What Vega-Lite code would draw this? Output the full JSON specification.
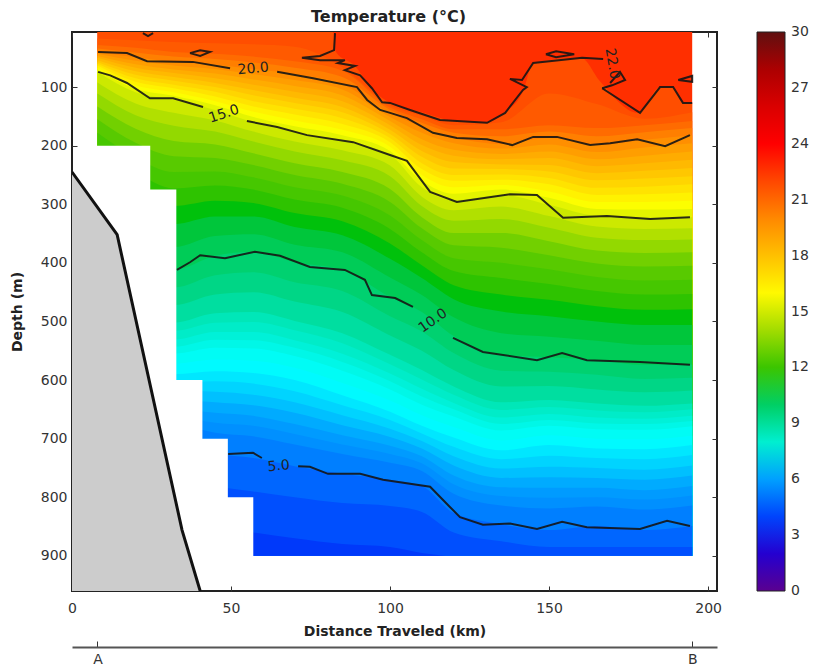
{"$schema":"https://vega.github.io/schema/vega-lite/v6.json","width":645,"height":559,"autosize":{"type":"none"},"padding":{"left":72,"top":32,"right":98,"bottom":79},"background":"white","title":{"text":"Temperature (°C)","font":"DejaVu Sans","fontSize":16,"fontWeight":"bold","color":"#222","offset":4,"anchor":"middle","dx":-6},"config":{"view":{"stroke":"#222","strokeWidth":2},"axis":{"grid":false,"labelFont":"DejaVu Sans","titleFont":"DejaVu Sans","labelFontSize":14,"titleFontSize":14,"titleFontWeight":"bold","labelColor":"#333","titleColor":"#222","tickColor":"#333","domain":false,"labelFlush":false},"legend":{"labelFont":"DejaVu Sans"}},"resolve":{"axis":{"x":"independent","y":"independent"}},"layer":[
{"data":{"values":[
{"x":8,"t":22.7,"d":6},{"x":195,"t":22.7,"d":6},
{"x":8,"t":21.75,"d":6},{"x":82,"t":21.75,"d":6},{"x":83,"t":21.75,"d":40},{"x":89,"t":21.75,"d":64},{"x":94,"t":21.75,"d":102},{"x":100,"t":21.75,"d":127},{"x":110,"t":21.75,"d":143},{"x":120,"t":21.75,"d":158},{"x":130,"t":21.75,"d":161},{"x":136,"t":21.75,"d":144},{"x":142,"t":21.75,"d":105},{"x":145,"t":21.75,"d":59},{"x":160,"t":21.75,"d":50},{"x":166,"t":21.75,"d":90},{"x":178,"t":21.75,"d":144},{"x":185,"t":21.75,"d":100},{"x":189,"t":21.75,"d":100},{"x":192,"t":21.75,"d":127},{"x":195,"t":21.75,"d":127},
{"x":8,"t":21.25,"d":17},{"x":20,"t":21.25,"d":20},{"x":32,"t":21.25,"d":23},{"x":45,"t":21.25,"d":25},{"x":57,"t":21.25,"d":27},{"x":70,"t":21.25,"d":31},{"x":85,"t":21.25,"d":66},{"x":100,"t":21.25,"d":131},{"x":110,"t":21.25,"d":149},{"x":120,"t":21.25,"d":165},{"x":135,"t":21.25,"d":160},{"x":150,"t":21.25,"d":111},{"x":165,"t":21.25,"d":129},{"x":180,"t":21.25,"d":154},{"x":195,"t":21.25,"d":143},
{"x":8,"t":20.75,"d":28},{"x":20,"t":20.75,"d":33},{"x":32,"t":20.75,"d":40},{"x":45,"t":20.75,"d":43},{"x":57,"t":20.75,"d":48},{"x":70,"t":20.75,"d":56},{"x":85,"t":20.75,"d":72},{"x":100,"t":20.75,"d":135},{"x":110,"t":20.75,"d":155},{"x":120,"t":20.75,"d":172},{"x":135,"t":20.75,"d":172},{"x":150,"t":20.75,"d":165},{"x":165,"t":20.75,"d":170},{"x":180,"t":20.75,"d":165},{"x":195,"t":20.75,"d":158},
{"x":8,"t":20.25,"d":34},{"x":20,"t":20.25,"d":41},{"x":32,"t":20.25,"d":48},{"x":45,"t":20.25,"d":52},{"x":57,"t":20.25,"d":58},{"x":70,"t":20.25,"d":67},{"x":85,"t":20.25,"d":83},{"x":100,"t":20.25,"d":139},{"x":110,"t":20.25,"d":161},{"x":120,"t":20.25,"d":178},{"x":135,"t":20.25,"d":184},{"x":150,"t":20.25,"d":176},{"x":165,"t":20.25,"d":184},{"x":180,"t":20.25,"d":177},{"x":195,"t":20.25,"d":170},
{"x":8,"t":19.75,"d":40},{"x":20,"t":19.75,"d":49},{"x":32,"t":19.75,"d":57},{"x":45,"t":19.75,"d":62},{"x":57,"t":19.75,"d":69},{"x":70,"t":19.75,"d":78},{"x":85,"t":19.75,"d":95},{"x":100,"t":19.75,"d":144},{"x":110,"t":19.75,"d":168},{"x":120,"t":19.75,"d":185},{"x":135,"t":19.75,"d":197},{"x":150,"t":19.75,"d":187},{"x":165,"t":19.75,"d":199},{"x":180,"t":19.75,"d":190},{"x":195,"t":19.75,"d":182},
{"x":8,"t":19.25,"d":43},{"x":20,"t":19.25,"d":55},{"x":32,"t":19.25,"d":63},{"x":45,"t":19.25,"d":69},{"x":57,"t":19.25,"d":78},{"x":70,"t":19.25,"d":88},{"x":85,"t":19.25,"d":104},{"x":100,"t":19.25,"d":151},{"x":110,"t":19.25,"d":178},{"x":120,"t":19.25,"d":196},{"x":135,"t":19.25,"d":205},{"x":150,"t":19.25,"d":198},{"x":165,"t":19.25,"d":211},{"x":180,"t":19.25,"d":203},{"x":195,"t":19.25,"d":196},
{"x":8,"t":18.75,"d":47},{"x":20,"t":18.75,"d":61},{"x":32,"t":18.75,"d":70},{"x":45,"t":18.75,"d":77},{"x":57,"t":18.75,"d":87},{"x":70,"t":18.75,"d":98},{"x":85,"t":18.75,"d":114},{"x":100,"t":18.75,"d":158},{"x":110,"t":18.75,"d":189},{"x":120,"t":18.75,"d":207},{"x":135,"t":18.75,"d":214},{"x":150,"t":18.75,"d":210},{"x":165,"t":18.75,"d":223},{"x":180,"t":18.75,"d":217},{"x":195,"t":18.75,"d":210},
{"x":8,"t":18.25,"d":50},{"x":20,"t":18.25,"d":67},{"x":32,"t":18.25,"d":76},{"x":45,"t":18.25,"d":85},{"x":57,"t":18.25,"d":96},{"x":70,"t":18.25,"d":108},{"x":85,"t":18.25,"d":124},{"x":100,"t":18.25,"d":165},{"x":110,"t":18.25,"d":199},{"x":120,"t":18.25,"d":217},{"x":135,"t":18.25,"d":223},{"x":150,"t":18.25,"d":221},{"x":165,"t":18.25,"d":235},{"x":180,"t":18.25,"d":230},{"x":195,"t":18.25,"d":224},
{"x":8,"t":17.75,"d":54},{"x":20,"t":17.75,"d":73},{"x":32,"t":17.75,"d":83},{"x":45,"t":17.75,"d":93},{"x":57,"t":17.75,"d":105},{"x":70,"t":17.75,"d":118},{"x":85,"t":17.75,"d":134},{"x":100,"t":17.75,"d":173},{"x":110,"t":17.75,"d":209},{"x":120,"t":17.75,"d":228},{"x":135,"t":17.75,"d":232},{"x":150,"t":17.75,"d":233},{"x":165,"t":17.75,"d":247},{"x":180,"t":17.75,"d":243},{"x":195,"t":17.75,"d":238},
{"x":8,"t":17.25,"d":57},{"x":20,"t":17.25,"d":79},{"x":32,"t":17.25,"d":89},{"x":45,"t":17.25,"d":100},{"x":57,"t":17.25,"d":114},{"x":70,"t":17.25,"d":127},{"x":85,"t":17.25,"d":143},{"x":100,"t":17.25,"d":180},{"x":110,"t":17.25,"d":219},{"x":120,"t":17.25,"d":239},{"x":135,"t":17.25,"d":240},{"x":150,"t":17.25,"d":244},{"x":165,"t":17.25,"d":259},{"x":180,"t":17.25,"d":256},{"x":195,"t":17.25,"d":252},
{"x":8,"t":16.75,"d":60},{"x":20,"t":16.75,"d":85},{"x":32,"t":16.75,"d":96},{"x":45,"t":16.75,"d":108},{"x":57,"t":16.75,"d":124},{"x":70,"t":16.75,"d":137},{"x":85,"t":16.75,"d":153},{"x":100,"t":16.75,"d":187},{"x":110,"t":16.75,"d":230},{"x":120,"t":16.75,"d":250},{"x":135,"t":16.75,"d":249},{"x":150,"t":16.75,"d":255},{"x":165,"t":16.75,"d":272},{"x":180,"t":16.75,"d":270},{"x":195,"t":16.75,"d":266},
{"x":8,"t":16.25,"d":63},{"x":20,"t":16.25,"d":91},{"x":32,"t":16.25,"d":102},{"x":45,"t":16.25,"d":116},{"x":57,"t":16.25,"d":133},{"x":70,"t":16.25,"d":147},{"x":85,"t":16.25,"d":163},{"x":100,"t":16.25,"d":194},{"x":110,"t":16.25,"d":240},{"x":120,"t":16.25,"d":260},{"x":135,"t":16.25,"d":258},{"x":150,"t":16.25,"d":266},{"x":165,"t":16.25,"d":284},{"x":180,"t":16.25,"d":283},{"x":195,"t":16.25,"d":280},
{"x":8,"t":15.75,"d":67},{"x":20,"t":15.75,"d":97},{"x":32,"t":15.75,"d":109},{"x":45,"t":15.75,"d":124},{"x":57,"t":15.75,"d":142},{"x":70,"t":15.75,"d":157},{"x":85,"t":15.75,"d":173},{"x":100,"t":15.75,"d":202},{"x":110,"t":15.75,"d":250},{"x":120,"t":15.75,"d":271},{"x":135,"t":15.75,"d":267},{"x":150,"t":15.75,"d":278},{"x":165,"t":15.75,"d":296},{"x":180,"t":15.75,"d":296},{"x":195,"t":15.75,"d":294},
{"x":8,"t":15.25,"d":70},{"x":20,"t":15.25,"d":103},{"x":32,"t":15.25,"d":115},{"x":45,"t":15.25,"d":131},{"x":57,"t":15.25,"d":151},{"x":70,"t":15.25,"d":167},{"x":85,"t":15.25,"d":182},{"x":100,"t":15.25,"d":209},{"x":110,"t":15.25,"d":260},{"x":120,"t":15.25,"d":282},{"x":135,"t":15.25,"d":275},{"x":150,"t":15.25,"d":289},{"x":165,"t":15.25,"d":308},{"x":180,"t":15.25,"d":309},{"x":195,"t":15.25,"d":308},
{"x":8,"t":14.75,"d":74},{"x":20,"t":14.75,"d":109},{"x":32,"t":14.75,"d":122},{"x":45,"t":14.75,"d":139},{"x":57,"t":14.75,"d":160},{"x":70,"t":14.75,"d":177},{"x":85,"t":14.75,"d":192},{"x":100,"t":14.75,"d":216},{"x":110,"t":14.75,"d":271},{"x":120,"t":14.75,"d":293},{"x":135,"t":14.75,"d":284},{"x":150,"t":14.75,"d":301},{"x":165,"t":14.75,"d":320},{"x":180,"t":14.75,"d":323},{"x":195,"t":14.75,"d":322},
{"x":8,"t":14.25,"d":92},{"x":20,"t":14.25,"d":128},{"x":32,"t":14.25,"d":144},{"x":45,"t":14.25,"d":157},{"x":57,"t":14.25,"d":176},{"x":70,"t":14.25,"d":193},{"x":85,"t":14.25,"d":208},{"x":100,"t":14.25,"d":234},{"x":110,"t":14.25,"d":287},{"x":120,"t":14.25,"d":310},{"x":135,"t":14.25,"d":304},{"x":150,"t":14.25,"d":320},{"x":165,"t":14.25,"d":338},{"x":180,"t":14.25,"d":342},{"x":195,"t":14.25,"d":341},
{"x":8,"t":13.75,"d":111},{"x":20,"t":13.75,"d":148},{"x":32,"t":13.75,"d":166},{"x":45,"t":13.75,"d":176},{"x":57,"t":13.75,"d":193},{"x":70,"t":13.75,"d":210},{"x":85,"t":13.75,"d":225},{"x":100,"t":13.75,"d":252},{"x":110,"t":13.75,"d":303},{"x":120,"t":13.75,"d":328},{"x":135,"t":13.75,"d":325},{"x":150,"t":13.75,"d":340},{"x":165,"t":13.75,"d":357},{"x":180,"t":13.75,"d":361},{"x":195,"t":13.75,"d":360},
{"x":8,"t":13.25,"d":133},{"x":20,"t":13.25,"d":171},{"x":32,"t":13.25,"d":192},{"x":45,"t":13.25,"d":198},{"x":57,"t":13.25,"d":213},{"x":70,"t":13.25,"d":230},{"x":85,"t":13.25,"d":245},{"x":100,"t":13.25,"d":274},{"x":110,"t":13.25,"d":322},{"x":120,"t":13.25,"d":349},{"x":135,"t":13.25,"d":349},{"x":150,"t":13.25,"d":363},{"x":165,"t":13.25,"d":379},{"x":180,"t":13.25,"d":383},{"x":195,"t":13.25,"d":382},
{"x":8,"t":12.75,"d":155},{"x":20,"t":12.75,"d":195},{"x":32,"t":12.75,"d":218},{"x":45,"t":12.75,"d":221},{"x":57,"t":12.75,"d":233},{"x":70,"t":12.75,"d":250},{"x":85,"t":12.75,"d":265},{"x":100,"t":12.75,"d":296},{"x":110,"t":12.75,"d":341},{"x":120,"t":12.75,"d":370},{"x":135,"t":12.75,"d":374},{"x":150,"t":12.75,"d":387},{"x":165,"t":12.75,"d":401},{"x":180,"t":12.75,"d":406},{"x":195,"t":12.75,"d":405},
{"x":8,"t":12.25,"d":178},{"x":20,"t":12.25,"d":220},{"x":32,"t":12.25,"d":245},{"x":45,"t":12.25,"d":244},{"x":57,"t":12.25,"d":254},{"x":70,"t":12.25,"d":271},{"x":85,"t":12.25,"d":285},{"x":100,"t":12.25,"d":319},{"x":110,"t":12.25,"d":361},{"x":120,"t":12.25,"d":392},{"x":135,"t":12.25,"d":400},{"x":150,"t":12.25,"d":411},{"x":165,"t":12.25,"d":424},{"x":180,"t":12.25,"d":430},{"x":195,"t":12.25,"d":429},
{"x":8,"t":11.75,"d":202},{"x":20,"t":11.75,"d":245},{"x":32,"t":11.75,"d":273},{"x":45,"t":11.75,"d":268},{"x":57,"t":11.75,"d":275},{"x":70,"t":11.75,"d":292},{"x":85,"t":11.75,"d":306},{"x":100,"t":11.75,"d":342},{"x":110,"t":11.75,"d":382},{"x":120,"t":11.75,"d":414},{"x":135,"t":11.75,"d":426},{"x":150,"t":11.75,"d":436},{"x":165,"t":11.75,"d":448},{"x":180,"t":11.75,"d":454},{"x":195,"t":11.75,"d":453},
{"x":8,"t":11.25,"d":228},{"x":20,"t":11.25,"d":272},{"x":32,"t":11.25,"d":303},{"x":45,"t":11.25,"d":294},{"x":57,"t":11.25,"d":298},{"x":70,"t":11.25,"d":315},{"x":85,"t":11.25,"d":329},{"x":100,"t":11.25,"d":367},{"x":110,"t":11.25,"d":404},{"x":120,"t":11.25,"d":438},{"x":135,"t":11.25,"d":454},{"x":150,"t":11.25,"d":463},{"x":165,"t":11.25,"d":474},{"x":180,"t":11.25,"d":480},{"x":195,"t":11.25,"d":479},
{"x":8,"t":10.75,"d":254},{"x":20,"t":10.75,"d":300},{"x":32,"t":10.75,"d":334},{"x":45,"t":10.75,"d":321},{"x":57,"t":10.75,"d":321},{"x":70,"t":10.75,"d":339},{"x":85,"t":10.75,"d":353},{"x":100,"t":10.75,"d":393},{"x":110,"t":10.75,"d":426},{"x":120,"t":10.75,"d":462},{"x":135,"t":10.75,"d":483},{"x":150,"t":10.75,"d":491},{"x":165,"t":10.75,"d":500},{"x":180,"t":10.75,"d":506},{"x":195,"t":10.75,"d":506},
{"x":8,"t":10.25,"d":287},{"x":20,"t":10.25,"d":335},{"x":32,"t":10.25,"d":373},{"x":45,"t":10.25,"d":354},{"x":57,"t":10.25,"d":351},{"x":70,"t":10.25,"d":369},{"x":85,"t":10.25,"d":382},{"x":100,"t":10.25,"d":425},{"x":110,"t":10.25,"d":455},{"x":120,"t":10.25,"d":493},{"x":135,"t":10.25,"d":520},{"x":150,"t":10.25,"d":526},{"x":165,"t":10.25,"d":533},{"x":180,"t":10.25,"d":540},{"x":195,"t":10.25,"d":540},
{"x":8,"t":9.75,"d":320},{"x":20,"t":9.75,"d":370},{"x":32,"t":9.75,"d":412},{"x":45,"t":9.75,"d":388},{"x":57,"t":9.75,"d":381},{"x":70,"t":9.75,"d":399},{"x":85,"t":9.75,"d":412},{"x":100,"t":9.75,"d":458},{"x":110,"t":9.75,"d":484},{"x":120,"t":9.75,"d":525},{"x":135,"t":9.75,"d":557},{"x":150,"t":9.75,"d":561},{"x":165,"t":9.75,"d":566},{"x":180,"t":9.75,"d":574},{"x":195,"t":9.75,"d":574},
{"x":8,"t":9.25,"d":360},{"x":20,"t":9.25,"d":404},{"x":32,"t":9.25,"d":442},{"x":45,"t":9.25,"d":421},{"x":57,"t":9.25,"d":416},{"x":70,"t":9.25,"d":433},{"x":85,"t":9.25,"d":448},{"x":100,"t":9.25,"d":491},{"x":110,"t":9.25,"d":517},{"x":120,"t":9.25,"d":554},{"x":135,"t":9.25,"d":584},{"x":150,"t":9.25,"d":586},{"x":165,"t":9.25,"d":591},{"x":180,"t":9.25,"d":598},{"x":195,"t":9.25,"d":596},
{"x":8,"t":8.75,"d":399},{"x":20,"t":8.75,"d":438},{"x":32,"t":8.75,"d":472},{"x":45,"t":8.75,"d":454},{"x":57,"t":8.75,"d":450},{"x":70,"t":8.75,"d":466},{"x":85,"t":8.75,"d":484},{"x":100,"t":8.75,"d":524},{"x":110,"t":8.75,"d":550},{"x":120,"t":8.75,"d":583},{"x":135,"t":8.75,"d":611},{"x":150,"t":8.75,"d":610},{"x":165,"t":8.75,"d":616},{"x":180,"t":8.75,"d":621},{"x":195,"t":8.75,"d":618},
{"x":8,"t":8.375,"d":438},{"x":20,"t":8.375,"d":472},{"x":32,"t":8.375,"d":502},{"x":45,"t":8.375,"d":486},{"x":57,"t":8.375,"d":484},{"x":70,"t":8.375,"d":499},{"x":85,"t":8.375,"d":520},{"x":100,"t":8.375,"d":557},{"x":110,"t":8.375,"d":583},{"x":120,"t":8.375,"d":611},{"x":135,"t":8.375,"d":638},{"x":150,"t":8.375,"d":634},{"x":165,"t":8.375,"d":640},{"x":180,"t":8.375,"d":644},{"x":195,"t":8.375,"d":640},
{"x":8,"t":8.125,"d":457},{"x":20,"t":8.125,"d":488},{"x":32,"t":8.125,"d":516},{"x":45,"t":8.125,"d":502},{"x":57,"t":8.125,"d":501},{"x":70,"t":8.125,"d":515},{"x":85,"t":8.125,"d":537},{"x":100,"t":8.125,"d":573},{"x":110,"t":8.125,"d":599},{"x":120,"t":8.125,"d":625},{"x":135,"t":8.125,"d":651},{"x":150,"t":8.125,"d":646},{"x":165,"t":8.125,"d":652},{"x":180,"t":8.125,"d":655},{"x":195,"t":8.125,"d":650},
{"x":8,"t":7.875,"d":476},{"x":20,"t":7.875,"d":505},{"x":32,"t":7.875,"d":531},{"x":45,"t":7.875,"d":518},{"x":57,"t":7.875,"d":518},{"x":70,"t":7.875,"d":532},{"x":85,"t":7.875,"d":555},{"x":100,"t":7.875,"d":589},{"x":110,"t":7.875,"d":615},{"x":120,"t":7.875,"d":639},{"x":135,"t":7.875,"d":664},{"x":150,"t":7.875,"d":658},{"x":165,"t":7.875,"d":664},{"x":180,"t":7.875,"d":666},{"x":195,"t":7.875,"d":661},
{"x":8,"t":7.625,"d":492},{"x":20,"t":7.625,"d":518},{"x":32,"t":7.625,"d":543},{"x":45,"t":7.625,"d":531},{"x":57,"t":7.625,"d":532},{"x":70,"t":7.625,"d":545},{"x":85,"t":7.625,"d":569},{"x":100,"t":7.625,"d":602},{"x":110,"t":7.625,"d":628},{"x":120,"t":7.625,"d":650},{"x":135,"t":7.625,"d":675},{"x":150,"t":7.625,"d":668},{"x":165,"t":7.625,"d":674},{"x":180,"t":7.625,"d":675},{"x":195,"t":7.625,"d":670},
{"x":8,"t":7.375,"d":508},{"x":20,"t":7.375,"d":532},{"x":32,"t":7.375,"d":555},{"x":45,"t":7.375,"d":545},{"x":57,"t":7.375,"d":546},{"x":70,"t":7.375,"d":559},{"x":85,"t":7.375,"d":584},{"x":100,"t":7.375,"d":616},{"x":110,"t":7.375,"d":642},{"x":120,"t":7.375,"d":662},{"x":135,"t":7.375,"d":686},{"x":150,"t":7.375,"d":678},{"x":165,"t":7.375,"d":684},{"x":180,"t":7.375,"d":685},{"x":195,"t":7.375,"d":679},
{"x":8,"t":7.125,"d":530},{"x":20,"t":7.125,"d":552},{"x":32,"t":7.125,"d":572},{"x":45,"t":7.125,"d":565},{"x":57,"t":7.125,"d":567},{"x":70,"t":7.125,"d":579},{"x":85,"t":7.125,"d":605},{"x":100,"t":7.125,"d":635},{"x":110,"t":7.125,"d":660},{"x":120,"t":7.125,"d":680},{"x":135,"t":7.125,"d":703},{"x":150,"t":7.125,"d":694},{"x":165,"t":7.125,"d":700},{"x":180,"t":7.125,"d":701},{"x":195,"t":7.125,"d":695},
{"x":8,"t":6.875,"d":553},{"x":20,"t":6.875,"d":572},{"x":32,"t":6.875,"d":590},{"x":45,"t":6.875,"d":585},{"x":57,"t":6.875,"d":588},{"x":70,"t":6.875,"d":600},{"x":85,"t":6.875,"d":626},{"x":100,"t":6.875,"d":654},{"x":110,"t":6.875,"d":678},{"x":120,"t":6.875,"d":698},{"x":135,"t":6.875,"d":720},{"x":150,"t":6.875,"d":711},{"x":165,"t":6.875,"d":717},{"x":180,"t":6.875,"d":718},{"x":195,"t":6.875,"d":711},
{"x":8,"t":6.625,"d":569},{"x":20,"t":6.625,"d":587},{"x":32,"t":6.625,"d":604},{"x":45,"t":6.625,"d":602},{"x":57,"t":6.625,"d":606},{"x":70,"t":6.625,"d":619},{"x":85,"t":6.625,"d":643},{"x":100,"t":6.625,"d":668},{"x":110,"t":6.625,"d":691},{"x":120,"t":6.625,"d":714},{"x":135,"t":6.625,"d":735},{"x":150,"t":6.625,"d":729},{"x":165,"t":6.625,"d":733},{"x":180,"t":6.625,"d":735},{"x":195,"t":6.625,"d":728},
{"x":8,"t":6.375,"d":585},{"x":20,"t":6.375,"d":602},{"x":32,"t":6.375,"d":618},{"x":45,"t":6.375,"d":620},{"x":57,"t":6.375,"d":625},{"x":70,"t":6.375,"d":638},{"x":85,"t":6.375,"d":660},{"x":100,"t":6.375,"d":683},{"x":110,"t":6.375,"d":704},{"x":120,"t":6.375,"d":730},{"x":135,"t":6.375,"d":751},{"x":150,"t":6.375,"d":748},{"x":165,"t":6.375,"d":750},{"x":180,"t":6.375,"d":753},{"x":195,"t":6.375,"d":746},
{"x":8,"t":6.125,"d":601},{"x":20,"t":6.125,"d":617},{"x":32,"t":6.125,"d":632},{"x":45,"t":6.125,"d":638},{"x":57,"t":6.125,"d":643},{"x":70,"t":6.125,"d":656},{"x":85,"t":6.125,"d":677},{"x":100,"t":6.125,"d":697},{"x":110,"t":6.125,"d":717},{"x":120,"t":6.125,"d":746},{"x":135,"t":6.125,"d":767},{"x":150,"t":6.125,"d":766},{"x":165,"t":6.125,"d":767},{"x":180,"t":6.125,"d":770},{"x":195,"t":6.125,"d":763},
{"x":8,"t":5.875,"d":617},{"x":20,"t":5.875,"d":632},{"x":32,"t":5.875,"d":646},{"x":45,"t":5.875,"d":656},{"x":57,"t":5.875,"d":661},{"x":70,"t":5.875,"d":675},{"x":85,"t":5.875,"d":694},{"x":100,"t":5.875,"d":712},{"x":110,"t":5.875,"d":730},{"x":120,"t":5.875,"d":763},{"x":135,"t":5.875,"d":783},{"x":150,"t":5.875,"d":784},{"x":165,"t":5.875,"d":784},{"x":180,"t":5.875,"d":788},{"x":195,"t":5.875,"d":781},
{"x":8,"t":5.625,"d":632},{"x":20,"t":5.625,"d":646},{"x":32,"t":5.625,"d":659},{"x":45,"t":5.625,"d":673},{"x":57,"t":5.625,"d":678},{"x":70,"t":5.625,"d":692},{"x":85,"t":5.625,"d":710},{"x":100,"t":5.625,"d":726},{"x":110,"t":5.625,"d":742},{"x":120,"t":5.625,"d":778},{"x":135,"t":5.625,"d":798},{"x":150,"t":5.625,"d":801},{"x":165,"t":5.625,"d":800},{"x":180,"t":5.625,"d":804},{"x":195,"t":5.625,"d":797},
{"x":8,"t":5.25,"d":648},{"x":20,"t":5.25,"d":660},{"x":32,"t":5.25,"d":672},{"x":45,"t":5.25,"d":690},{"x":57,"t":5.25,"d":696},{"x":70,"t":5.25,"d":710},{"x":85,"t":5.25,"d":726},{"x":100,"t":5.25,"d":741},{"x":110,"t":5.25,"d":755},{"x":120,"t":5.25,"d":794},{"x":135,"t":5.25,"d":814},{"x":150,"t":5.25,"d":819},{"x":165,"t":5.25,"d":816},{"x":180,"t":5.25,"d":821},{"x":195,"t":5.25,"d":814},
{"x":8,"t":4.75,"d":680},{"x":20,"t":4.75,"d":690},{"x":32,"t":4.75,"d":700},{"x":45,"t":4.75,"d":725},{"x":57,"t":4.75,"d":733},{"x":70,"t":4.75,"d":747},{"x":85,"t":4.75,"d":760},{"x":100,"t":4.75,"d":770},{"x":110,"t":4.75,"d":781},{"x":120,"t":4.75,"d":827},{"x":135,"t":4.75,"d":846},{"x":150,"t":4.75,"d":856},{"x":165,"t":4.75,"d":849},{"x":180,"t":4.75,"d":856},{"x":195,"t":4.75,"d":849},
{"x":8,"t":4.25,"d":730},{"x":20,"t":4.25,"d":740},{"x":32,"t":4.25,"d":750},{"x":45,"t":4.25,"d":780},{"x":57,"t":4.25,"d":790},{"x":70,"t":4.25,"d":800},{"x":85,"t":4.25,"d":810},{"x":100,"t":4.25,"d":815},{"x":110,"t":4.25,"d":825},{"x":120,"t":4.25,"d":860},{"x":135,"t":4.25,"d":875},{"x":150,"t":4.25,"d":885},{"x":165,"t":4.25,"d":885},{"x":180,"t":4.25,"d":885},{"x":195,"t":4.25,"d":885},
{"x":8,"t":3.75,"d":790},{"x":20,"t":3.75,"d":800},{"x":32,"t":3.75,"d":820},{"x":45,"t":3.75,"d":850},{"x":57,"t":3.75,"d":860},{"x":70,"t":3.75,"d":870},{"x":85,"t":3.75,"d":880},{"x":100,"t":3.75,"d":885},{"x":110,"t":3.75,"d":895},{"x":120,"t":3.75,"d":900},{"x":135,"t":3.75,"d":900},{"x":150,"t":3.75,"d":900},{"x":165,"t":3.75,"d":900},{"x":180,"t":3.75,"d":900},{"x":195,"t":3.75,"d":900}
]},"mark":{"type":"area","interpolate":"monotone","orient":"vertical"},"encoding":{
"x":{"field":"x","type":"quantitative","scale":{"domain":[0,202.8],"nice":false,"zero":false},"title":"Distance Traveled (km)","axis":{"values":[0,50,100,150,200],"tickSize":-5,"labelPadding":15,"titlePadding":9,"orient":"bottom"}},
"y":{"field":"d","type":"quantitative","stack":false,"scale":{"domain":[960,6],"nice":false,"zero":false},"title":"Depth (m)","axis":{"values":[100,200,300,400,500,600,700,800,900],"tickSize":-5,"labelPadding":10,"titlePadding":16,"orient":"left"}},
"y2":{"datum":900},
"detail":{"field":"t"},
"color":{"field":"t","type":"quantitative","scale":{"type":"linear","domain":[0,1.5,3,4.5,6,7.2,9,11.3,13,14.5,15.8,18,20,21,23,24,27,29,30],"range":["#5a0090","#2a00c0","#0000f0","#0058ff","#00a0ff","#00ffff","#00d890","#00c000","#60cc00","#c0e400","#ffff00","#ffc000","#ff8800","#ff6000","#ff2000","#ff0000","#c80000","#900000","#601010"]},"legend":{"orient":"none","legendX":685,"legendY":0,"title":null,"gradientLength":559,"gradientThickness":28,"values":[0,3,6,9,12,15,18,21,24,27,30],"labelFontSize":14,"labelColor":"#333","gradientStrokeColor":"#222","gradientStrokeWidth":1,"labelOverlap":false,"labelOffset":6,"encoding":{"labels":{"baseline":{"value":"middle"}}}}}}},
{"data":{"values":[{"x0":7,"x1":24.6,"d0":200,"d1":900.5},{"x0":7,"x1":32.8,"d0":275,"d1":900.5},{"x0":7,"x1":41,"d0":600,"d1":900.5},{"x0":7,"x1":49,"d0":700,"d1":900.5},{"x0":7,"x1":57,"d0":800,"d1":900.5}]},"mark":{"type":"rect","color":"white"},"encoding":{
"x":{"field":"x0","type":"quantitative","axis":{"values":[8,195],"orient":"bottom","offset":56,"domain":true,"domainColor":"#555","domainWidth":2,"tickSize":-6,"labelPadding":11,"labelExpr":"datum.value < 100 ? 'A' : 'B'","title":null,"labelFontSize":14}},"x2":{"field":"x1"},
"y":{"field":"d0","type":"quantitative","axis":{"values":[100,200,300,400,500,600,700,800,900],"orient":"right","tickSize":-5,"labels":false,"title":null}},"y2":{"field":"d1"}}},
{"data":{"values":[{"x":0,"d":245},{"x":14.2,"d":352},{"x":34.6,"d":856},{"x":40.3,"d":960}]},"mark":{"type":"area","color":"#cccccc","orient":"vertical"},"encoding":{
"x":{"field":"x","type":"quantitative","axis":{"values":[0,50,100,150,200],"orient":"top","tickSize":-5,"labels":false,"title":null}},
"y":{"field":"d","type":"quantitative","stack":false,"axis":null},"y2":{"datum":960}}},
{"data":{"values":[{"x":0,"d":245},{"x":14.2,"d":352},{"x":34.6,"d":856},{"x":40.3,"d":960}]},"mark":{"type":"line","color":"#111","strokeWidth":3,"clip":true},"encoding":{"x":{"field":"x","type":"quantitative","axis":null},"y":{"field":"d","type":"quantitative","axis":null}}},
{"data":{"values":[
{"id":"20a","x":8.2,"d":40},{"id":"20a","x":17.3,"d":42},{"id":"20a","x":23.6,"d":56},{"id":"20a","x":38,"d":57},{"id":"20a","x":49.7,"d":68},
{"id":"20b","x":64.5,"d":74},{"id":"20b","x":75.8,"d":85},{"id":"20b","x":89.6,"d":100},{"id":"20b","x":92.8,"d":122},{"id":"20b","x":96.9,"d":139},{"id":"20b","x":100,"d":144},{"id":"20b","x":105.3,"d":153},{"id":"20b","x":113.5,"d":178},{"id":"20b","x":121,"d":187},{"id":"20b","x":130.5,"d":189},{"id":"20b","x":138.4,"d":199},{"id":"20b","x":145,"d":185},{"id":"20b","x":152.5,"d":185},{"id":"20b","x":162.9,"d":199},{"id":"20b","x":169.2,"d":196},{"id":"20b","x":177.7,"d":189},{"id":"20b","x":186.5,"d":201},{"id":"20b","x":194.3,"d":182},
{"id":"15a","x":8.2,"d":74},{"id":"15a","x":12,"d":80},{"id":"15a","x":17.3,"d":93},{"id":"15a","x":24.5,"d":119},{"id":"15a","x":31.8,"d":119},{"id":"15a","x":41.2,"d":134},
{"id":"15b","x":55,"d":158},{"id":"15b","x":64.5,"d":168},{"id":"15b","x":73.9,"d":182},{"id":"15b","x":88.4,"d":194},{"id":"15b","x":100,"d":216},{"id":"15b","x":105.3,"d":226},{"id":"15b","x":112.6,"d":279},{"id":"15b","x":121,"d":296},{"id":"15b","x":137.7,"d":283},{"id":"15b","x":146.2,"d":284},{"id":"15b","x":154.4,"d":323},{"id":"15b","x":168.2,"d":320},{"id":"15b","x":181.8,"d":325},{"id":"15b","x":194.3,"d":322},
{"id":"10a","x":33,"d":412},{"id":"10a","x":37.1,"d":399},{"id":"10a","x":40.3,"d":387},{"id":"10a","x":48.1,"d":392},{"id":"10a","x":57.5,"d":381},{"id":"10a","x":65.4,"d":388},{"id":"10a","x":74.8,"d":407},{"id":"10a","x":85.8,"d":412},{"id":"10a","x":92.1,"d":429},{"id":"10a","x":94.3,"d":455},{"id":"10a","x":101.6,"d":460},{"id":"10a","x":107.2,"d":475},
{"id":"10b","x":119.8,"d":528},{"id":"10b","x":129.2,"d":552},{"id":"10b","x":146.2,"d":566},{"id":"10b","x":154.1,"d":554},{"id":"10b","x":161.9,"d":566},{"id":"10b","x":178.6,"d":569},{"id":"10b","x":194.3,"d":574},
{"id":"5a","x":49.1,"d":726},{"id":"5a","x":56.9,"d":724},{"id":"5a","x":59.7,"d":733},
{"id":"5b","x":71.1,"d":747},{"id":"5b","x":74.8,"d":748},{"id":"5b","x":80.5,"d":760},{"id":"5b","x":90.6,"d":760},{"id":"5b","x":97.8,"d":770},{"id":"5b","x":112.6,"d":782},{"id":"5b","x":118.9,"d":817},{"id":"5b","x":122,"d":834},{"id":"5b","x":129.2,"d":847},{"id":"5b","x":137.7,"d":845},{"id":"5b","x":146.2,"d":854},{"id":"5b","x":154.1,"d":842},{"id":"5b","x":161.9,"d":851},{"id":"5b","x":178.6,"d":854},{"id":"5b","x":187.1,"d":840},{"id":"5b","x":194.3,"d":849},
{"id":"22a","x":82.7,"d":8},{"id":"22a","x":82.4,"d":37},{"id":"22a","x":78,"d":47},{"id":"22a","x":72.3,"d":50},{"id":"22a","x":78,"d":54},{"id":"22a","x":85.8,"d":54},{"id":"22a","x":83.6,"d":59},{"id":"22a","x":89,"d":64},{"id":"22a","x":85.8,"d":71},{"id":"22a","x":90.6,"d":80},{"id":"22a","x":94.3,"d":102},{"id":"22a","x":97.5,"d":126},{"id":"22a","x":100,"d":127},{"id":"22a","x":106.3,"d":139},{"id":"22a","x":115.7,"d":156},{"id":"22a","x":130.5,"d":161},{"id":"22a","x":136.2,"d":144},{"id":"22a","x":141.8,"d":105},{"id":"22a","x":143,"d":100},{"id":"22a","x":137.7,"d":86},{"id":"22a","x":141.5,"d":88},{"id":"22a","x":145,"d":59},{"id":"22a","x":160.4,"d":50},{"id":"22a","x":167,"d":52},
{"id":"22b","x":166.7,"d":102},{"id":"22b","x":178.6,"d":144},{"id":"22b","x":184.9,"d":100},{"id":"22b","x":189,"d":100},{"id":"22b","x":192.1,"d":127},{"id":"22b","x":195,"d":127},
{"id":"L1","x":37.1,"d":42},{"id":"L1","x":40.3,"d":37},{"id":"L1","x":43.4,"d":40},{"id":"L1","x":40.3,"d":47},{"id":"L1","x":37.1,"d":42},
{"id":"L2","x":22.3,"d":8},{"id":"L2","x":23.9,"d":13},{"id":"L2","x":25.5,"d":8},
{"id":"L3","x":149,"d":44},{"id":"L3","x":152.2,"d":39},{"id":"L3","x":157.9,"d":44},{"id":"L3","x":152.2,"d":49},{"id":"L3","x":149,"d":44},
{"id":"L4","x":169.2,"d":93},{"id":"L4","x":172.3,"d":74},{"id":"L4","x":173.9,"d":88},{"id":"L4","x":169.8,"d":97},{"id":"L4","x":166.7,"d":102},
{"id":"L5","x":190.6,"d":88},{"id":"L5","x":195,"d":81},{"id":"L5","x":195,"d":91},{"id":"L5","x":190.6,"d":88}
]},"mark":{"type":"line","color":"#151515","strokeWidth":2,"opacity":0.9},"encoding":{"x":{"field":"x","type":"quantitative","axis":null},"y":{"field":"d","type":"quantitative","axis":null},"detail":{"field":"id"},"order":{"value":null}}},
{"data":{"values":[{"x":57,"d":69,"s":"20.0","a":-5},{"x":47.8,"d":146,"s":"15.0","a":-18},{"x":113.5,"d":499,"s":"10.0","a":-35},{"x":65,"d":747,"s":"5.0","a":-5},{"x":169.8,"d":60,"s":"22.0","a":80}]},"mark":{"type":"text","font":"DejaVu Sans","fontSize":14,"color":"#222","align":"center","baseline":"middle"},"encoding":{"x":{"field":"x","type":"quantitative","axis":null},"y":{"field":"d","type":"quantitative","axis":null},"text":{"field":"s"},"angle":{"field":"a","type":"quantitative","scale":null}}}
]}
